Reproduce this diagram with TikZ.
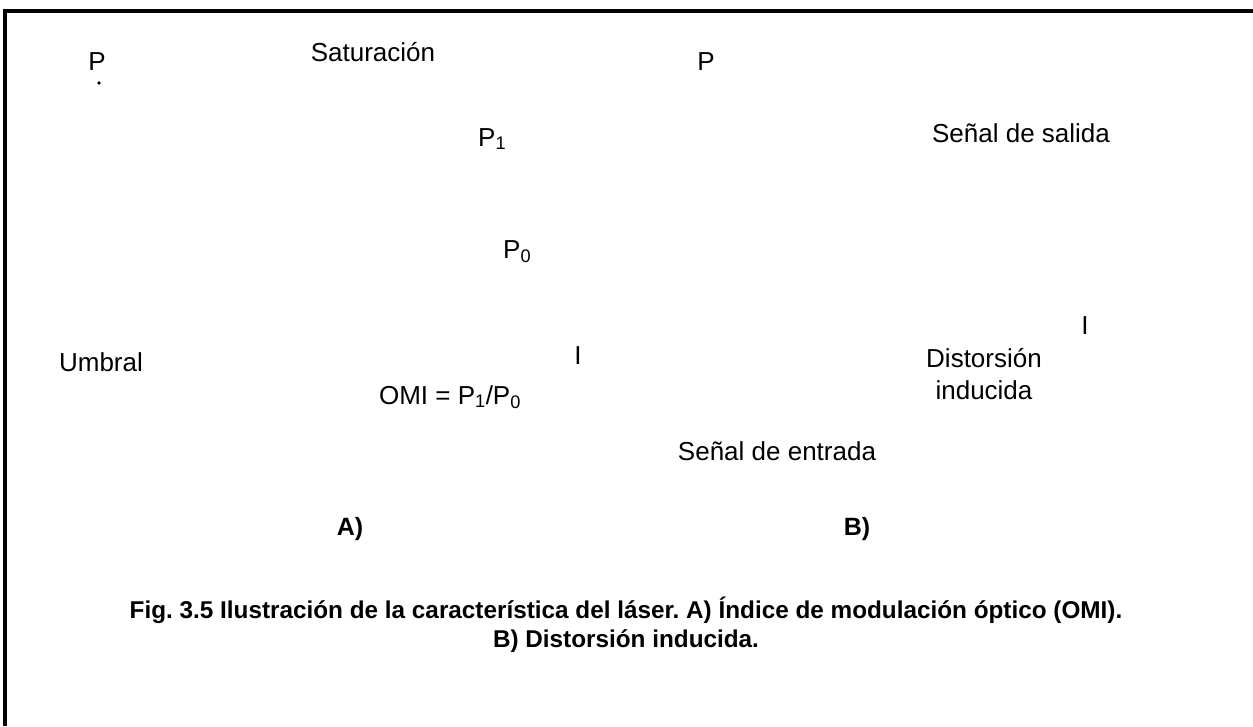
\documentclass[tikz,border=0pt]{standalone}
\usepackage{fontspec}
\setmainfont{Liberation Sans}
\usepackage{tikz}
\frenchspacing

\begin{document}
\begin{tikzpicture}[x=1pt, y=-1pt,
    lbl/.style={inner sep=0pt, font=\fontsize{26}{32}\selectfont},
    bold/.style={lbl, font=\fontsize{24.3}{29}\selectfont\bfseries}]
    \useasboundingbox (0,0) rectangle (1253,726);
    \draw[line width=4pt] (5,726) -- (5,10.5) -- (1253,10.5);

    % parte A
    \node[lbl, anchor=base] (pA) at (97, 70) {P};
    \fill (99, 83) circle (1.8);
    \node[lbl, anchor=base] (sat) at (373, 61) {Saturación};
    \node[lbl, anchor=base west] (p1) at (478, 146) {P\textsubscript{1}};
    \node[lbl, anchor=base west] (p0) at (503, 258) {P\textsubscript{0}};
    \node[lbl, anchor=base] (umbral) at (101, 371) {Umbral};
    \node[lbl, anchor=base] (iA) at (578, 364) {I};
    \node[lbl, anchor=base] (omi) at (450, 404) {OMI = P\textsubscript{1}/P\textsubscript{0}};
    \node[lbl, anchor=base, font=\fontsize{25}{29}\selectfont\bfseries] (la) at (350, 535) {A)};

    % parte B
    \node[lbl, anchor=base] (pB) at (706, 70) {P};
    \node[lbl, anchor=base] (sal) at (1021, 142) {Señal de salida};
    \node[lbl, anchor=base] (iB) at (1085, 334) {I};
    \node[lbl, align=center] (dist) at (984, 374) {Distorsión\\inducida};
    \node[lbl, anchor=base] (ent) at (777, 460) {Señal de entrada};
    \node[lbl, anchor=base, font=\fontsize{25}{29}\selectfont\bfseries] (lb) at (857, 535) {B)};

    % pie de figura
    \node[bold, align=center] (cap) at (626, 625)
        {Fig. 3.5 Ilustración de la característica del láser. A) Índice de modulación óptico (OMI).\\B) Distorsión inducida.};
\end{tikzpicture}
\end{document}
